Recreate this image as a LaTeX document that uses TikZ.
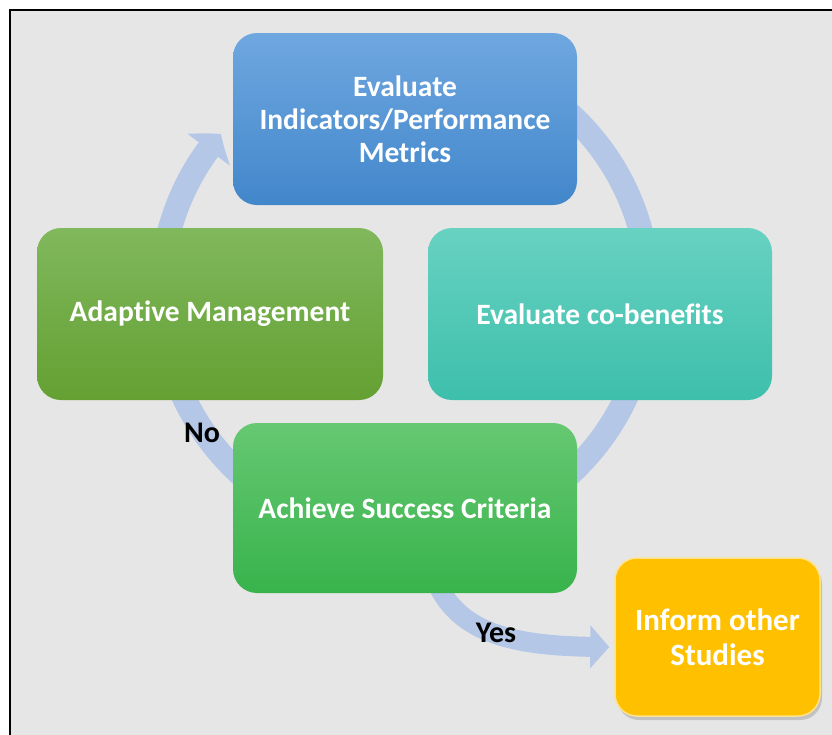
\documentclass[tikz,border=0pt]{standalone}
\usepackage{fontspec}
\setmainfont[Ligatures=NoCommon]{Carlito}
\usetikzlibrary{arrows.meta,bending,shadows,calc}
\pgfdeclarelayer{back}
\pgfsetlayers{back,main}
\definecolor{bgc}{HTML}{E7E6E6}
\definecolor{arr}{HTML}{B4C7E7}
\definecolor{blueT}{HTML}{6FA7E0}
\definecolor{blueB}{HTML}{4287CB}
\definecolor{lgT}{HTML}{80B85C}
\definecolor{lgB}{HTML}{64A032}
\definecolor{tealT}{HTML}{68D2C1}
\definecolor{tealB}{HTML}{3DBFAC}
\definecolor{mgT}{HTML}{66C872}
\definecolor{mgB}{HTML}{38B34C}
\definecolor{yel}{HTML}{FFC000}
\definecolor{yelE}{HTML}{FFE38A}
\tikzset{
  box/.style={rounded corners=24pt, text=white, align=center,
    font=\bfseries\fontsize{29.5}{33}\selectfont,
    minimum width=344pt, minimum height=172pt, inner sep=0pt},
  lbl/.style={text=black, font=\bfseries\fontsize{30}{34}\selectfont, inner sep=0pt},
  cycarrow/.style={draw=arr, line width=24pt,
    -{Triangle[length=20pt,width=52pt,bend]}},
  yesarrow/.style={draw=arr, line width=20pt,
    -{Triangle[length=19pt,width=42pt]}}
}
\begin{document}
\begin{tikzpicture}[x=1pt,y=1pt]
\useasboundingbox (0,0) rectangle (832,-734);
\clip (0,0) rectangle (832,-734);
\begin{pgfonlayer}{back}
  \fill[white] (0,0) rectangle (832,-734);
  \filldraw[fill=bgc, draw=black, line width=2pt] (10,-10) rectangle (860,-760);
\end{pgfonlayer}

\node[box, top color=blueT, bottom color=blueB] (eval) at (405,-119)
  {Evaluate\\Indicators/Performance\\Metrics};
\node[box, top color=lgT, bottom color=lgB, minimum width=346pt] (adapt) at (210,-314)
  {Adaptive Management};
\node[box, top color=tealT, bottom color=tealB] (cob) at (600,-314)
  {Evaluate co-benefits};
\node[box, top color=mgT, bottom color=mgB, minimum height=170pt] (ach) at (405,-508)
  {Achieve Success Criteria};
\node[box, fill=yel, draw=yelE, line width=1.5pt, rounded corners=22pt,
  font=\bfseries\fontsize{31}{35}\selectfont,
  minimum width=205pt, minimum height=158pt,
  drop shadow={shadow xshift=2pt, shadow yshift=-4pt, opacity=0.35}] (inf) at (717.5,-637)
  {Inform other\\Studies};

\node[lbl] (no) at (202,-433) {No};
\node[lbl] (yes) at (496,-633) {Yes};

\begin{pgfonlayer}{back}
  \coordinate (c) at (405,-294);
  \draw[cycarrow] ($(c)+(100:244)$) arc[start angle=100, end angle=-221, radius=244];
  \draw[yesarrow] ([xshift=32pt,yshift=10pt]ach.south)
    .. controls ([xshift=57pt,yshift=-45pt]ach.south) and ([xshift=-90pt,yshift=-10pt]inf.west)
    .. ([xshift=-5pt,yshift=-10pt]inf.west);
\end{pgfonlayer}
\end{tikzpicture}
\end{document}
